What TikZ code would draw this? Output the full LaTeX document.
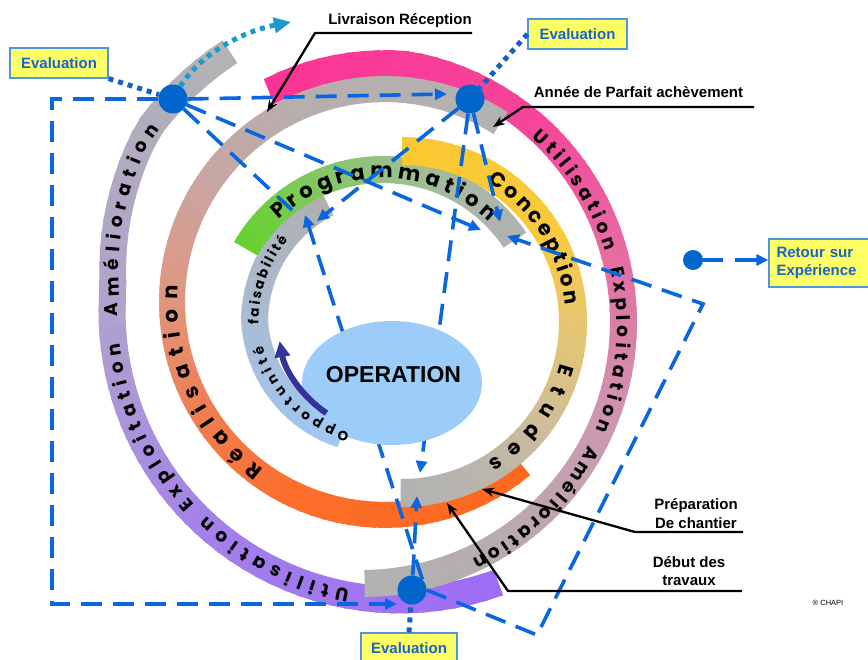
\documentclass[tikz,border=0pt]{standalone}
\usepackage{fontspec}
\setmainfont{Liberation Sans}
\newfontfamily\ringfont{Poppins}
\usetikzlibrary{arrows.meta,decorations.text}
% ring colours
\definecolor{fF1}{RGB}{158,108,246}\definecolor{fF2}{RGB}{163,128,234}\definecolor{fF3}{RGB}{176,162,206}\definecolor{fF4}{RGB}{179,179,179}
\definecolor{fE1}{RGB}{250,52,150}\definecolor{fE2}{RGB}{246,68,154}\definecolor{fE3}{RGB}{230,108,162}\definecolor{fE4}{RGB}{203,154,176}\definecolor{fE5}{RGB}{183,172,176}\definecolor{fE6}{RGB}{178,178,178}
\definecolor{fD1}{RGB}{255,104,30}\definecolor{fD2}{RGB}{252,110,42}\definecolor{fD3}{RGB}{240,126,82}\definecolor{fD4}{RGB}{222,152,132}\definecolor{fD5}{RGB}{200,166,162}\definecolor{fD6}{RGB}{183,174,174}\definecolor{fD7}{RGB}{178,178,178}
\definecolor{fC1}{RGB}{250,200,48}\definecolor{fC2}{RGB}{248,202,60}\definecolor{fC3}{RGB}{232,198,112}\definecolor{fC4}{RGB}{206,190,152}\definecolor{fC5}{RGB}{186,182,172}\definecolor{fC6}{RGB}{178,178,178}
\definecolor{fB1}{RGB}{102,210,45}\definecolor{fB2}{RGB}{128,200,96}\definecolor{fB3}{RGB}{158,190,146}\definecolor{fB4}{RGB}{170,182,166}\definecolor{fB5}{RGB}{176,178,176}
\definecolor{fA1}{RGB}{160,200,244}\definecolor{fA2}{RGB}{168,188,214}\definecolor{fA3}{RGB}{176,176,176}
\definecolor{opblue}{RGB}{156,204,250}
\definecolor{dotblue}{RGB}{0,102,204}
\definecolor{dashblue}{RGB}{10,102,222}
\definecolor{dottedblue}{RGB}{20,96,200}
\definecolor{cyanblue}{RGB}{25,155,210}
\definecolor{navy}{RGB}{51,51,153}
\definecolor{boxfill}{RGB}{255,255,102}
\definecolor{boxline}{RGB}{80,150,220}
\definecolor{evaltext}{RGB}{25,100,200}
% inner radius of each band, as a function of the angle
\pgfmathdeclarefunction{rinA}{1}{\pgfmathparse{108+12*min(1,max(0,(-112-(#1))/68))}}
\pgfmathdeclarefunction{rinB}{1}{\pgfmathparse{145}}
\pgfmathdeclarefunction{rinC}{1}{\pgfmathparse{157}}
\pgfmathdeclarefunction{rinD}{1}{\pgfmathparse{200}}
\pgfmathdeclarefunction{rinE}{1}{\pgfmathparse{248-13*max(0,((#1)-80)/32)}}
\pgfmathdeclarefunction{rinF}{1}{\pgfmathparse{274.5+min(23,max(0,-185-(#1))*0.742)}}
% baseline radius of the texts
\pgfmathdeclarefunction{tA}{1}{\pgfmathparse{rinA(#1)+9.5}}
\pgfmathdeclarefunction{tB}{1}{\pgfmathparse{150}}
\pgfmathdeclarefunction{tC}{1}{\pgfmathparse{164}}
\pgfmathdeclarefunction{tD}{1}{\pgfmathparse{207}}
\pgfmathdeclarefunction{tE}{1}{\pgfmathparse{250.5+11*(47-(#1))/112}}
\pgfmathdeclarefunction{tF}{1}{\pgfmathparse{282+min(20,max(0,-185-(#1))*0.7)}}
% gradient band piece: centre, a1, a2, radius fn, width, colour a1, colour a2
\newcommand\BandSeg[7]{%
  \foreach \ii in {1,...,20}{%
    \pgfmathsetmacro\ta{#2+(#3-#2)*(\ii-1)/20}%
    \pgfmathsetmacro\tb{#2+(#3-#2)*(\ii+0.3)/20}%
    \pgfmathsetmacro\ra{#4(\ta)}%
    \pgfmathsetmacro\rb{#4(\tb)}%
    \pgfmathsetmacro\rc{\ra+#5}%
    \pgfmathsetmacro\rd{\rb+#5}%
    \pgfmathsetmacro\pc{100*(\ii-0.5)/20}%
    \fill[#7!\pc!#6, shift={(#1)}] (\ta:\ra) -- (\tb:\rb) -- (\tb:\rd) -- (\ta:\rc) -- cycle;
  }}
% word along a band
\newcommand\RingWord[6]{%
  \path[shift={(#1)}, decorate, decoration={text along path, text align={fit to path},
     text={|\ringfont\bfseries\fontsize{#5}{#5}\selectfont|#6}}]
     plot[domain=#2:#3, samples=40, variable=\vv] ({#4(\vv)*cos(\vv)}, {#4(\vv)*sin(\vv)});
}
\begin{document}
\begin{tikzpicture}[x=1pt,y=1pt,
  bdot/.style={circle, fill=dotblue, inner sep=0pt, minimum size=29pt},
  sdot/.style={circle, fill=dotblue, inner sep=0pt, minimum size=20pt},
  dashline/.style={draw=dashblue, line width=3.6pt, dash pattern=on 21pt off 11pt},
  dtip/.style={-{Triangle[length=12pt,width=11pt]}},
  dotline/.style={draw=dottedblue, line width=5pt, dash pattern=on 5pt off 5pt},
  cyanline/.style={draw=cyanblue, line width=5pt, dash pattern=on 5pt off 5pt, -{Triangle[length=17pt,width=15pt]}},
  evalbox/.style={draw=boxline, line width=1.2pt, fill=boxfill, text=evaltext, inner sep=0pt, minimum height=30pt, font=\bfseries\fontsize{15}{18}\selectfont},
  lbl/.style={inner sep=0pt, font=\bfseries\fontsize{15}{18}\selectfont},
  calloutline/.style={draw=black, line width=2.3pt, line join=round, -{Stealth[length=12pt,width=9pt]}},
  navyarrow/.style={draw=navy, line width=6pt, -{Triangle[length=16pt,width=15pt]}}
]
\useasboundingbox (0,0) rectangle (868,-660);
\coordinate (cA) at (388,-322);
\coordinate (cB) at (383,-328);
\coordinate (cC) at (402,-322);
\coordinate (cD) at (385,-302);
\coordinate (cE) at (362,-322);
\coordinate (cF) at (400,-312);
% ---- bands
\BandSeg{cF}{-70}{-130}{rinF}{27}{fF1}{fF2}
\BandSeg{cF}{-130}{-180}{rinF}{27}{fF2}{fF3}
\BandSeg{cF}{-180}{-236}{rinF}{27}{fF3}{fF4}
\BandSeg{cE}{112}{50}{rinE}{27}{fE1}{fE2}
\BandSeg{cE}{50}{15}{rinE}{27}{fE2}{fE3}
\BandSeg{cE}{15}{-25}{rinE}{27}{fE3}{fE4}
\BandSeg{cE}{-25}{-60}{rinE}{27}{fE4}{fE5}
\BandSeg{cE}{-60}{-89}{rinE}{27}{fE5}{fE6}
\BandSeg{cD}{-50}{-115}{rinD}{26}{fD1}{fD2}
\BandSeg{cD}{-115}{-150}{rinD}{26}{fD2}{fD3}
\BandSeg{cD}{-150}{-185}{rinD}{26}{fD3}{fD4}
\BandSeg{cD}{-185}{-215}{rinD}{26}{fD4}{fD5}
\BandSeg{cD}{-215}{-245}{rinD}{26}{fD5}{fD6}
\BandSeg{cD}{-245}{-302}{rinD}{26}{fD6}{fD7}
\BandSeg{cA}{-112}{-180}{rinA}{27}{fA1}{fA2}
\BandSeg{cA}{-180}{-242}{rinA}{27}{fA2}{fA3}
\BandSeg{cB}{150}{115}{rinB}{27}{fB1}{fB2}
\BandSeg{cB}{115}{80}{rinB}{27}{fB2}{fB3}
\BandSeg{cB}{80}{55}{rinB}{27}{fB3}{fB4}
\BandSeg{cB}{55}{34}{rinB}{27}{fB4}{fB5}
\BandSeg{cC}{90}{30}{rinC}{28}{fC1}{fC2}
\BandSeg{cC}{30}{0}{rinC}{28}{fC2}{fC3}
\BandSeg{cC}{0}{-35}{rinC}{28}{fC3}{fC4}
\BandSeg{cC}{-35}{-60}{rinC}{28}{fC4}{fC5}
\BandSeg{cC}{-60}{-90}{rinC}{28}{fC5}{fC6}
% ---- band texts
\RingWord{cA}{-179}{-219.5}{tA}{13.5}{faisabilité}
\RingWord{cB}{134}{45}{tB}{21}{Programmation}
\RingWord{cC}{58.7}{5.8}{tC}{20.5}{Conception}
\RingWord{cC}{-14.7}{-58.5}{tC}{20.5}{Etudes}
\RingWord{cD}{234}{175.5}{tD}{21}{Réalisation}
\RingWord{cE}{47.3}{16.3}{tE}{18.5}{Utilisation}
\RingWord{cE}{12.2}{-24.9}{tE}{18.5}{Exploitation}
\RingWord{cE}{-28.5}{-65}{tE}{18.5}{Amélioration}
\RingWord{cF}{-100.3}{-133.5}{tF}{18.5}{Utilisation}
\RingWord{cF}{-136.9}{-173.7}{tF}{18.5}{Exploitation}
\RingWord{cF}{-179.1}{-217.3}{tF}{18.5}{Amélioration}
% ---- evaluation points
\node[bdot] (dot1) at (173,-99) {};
\node[bdot] (dot2) at (470,-99) {};
\node[bdot] (dot3) at (412,-590) {};
\node[sdot] (dot4) at (693,-260) {};
% ---- dashed feedback lines
\coordinate (rectTL) at (52,-99);
\coordinate (rectBL) at (52,-604);
\coordinate (rectEnd) at (397,-604);
\coordinate (d2in) at (447,-94);
\coordinate (aEndL) at (292,-210);
\coordinate (bEndA) at (481,-230);
\coordinate (aEndB) at (317,-221);
\coordinate (bEndB) at (500,-222);
\coordinate (cEndA) at (420,-473);
\coordinate (cEndB) at (417,-496);
\coordinate (aEndC) at (305,-215);
\coordinate (polyA) at (537,-635);
\coordinate (polyB) at (703,-304);
\coordinate (bEndC) at (507,-236);
\draw[dashline, dtip] (dot1.west) -- (rectTL) -- (rectBL) -- (rectEnd);
\draw[dashline, dtip] (dot1.east) -- (d2in);
\draw[dashline] (dot1) -- (aEndL);
\draw[dashline, dtip] (dot1) -- (bEndA);
\draw[dashline, dtip] (dot2) -- (aEndB);
\draw[dashline, dtip] (dot2) -- (bEndB);
\draw[dashline, dtip] (dot2) -- (cEndA);
\draw[dashline, dtip] (dot3) -- (cEndB);
\draw[dashline, dtip] (dot3.north east) -- (aEndC);
\draw[dashline, dtip] (dot3.east) -- (polyA) -- (polyB) -- (bEndC);
% ---- operation
\fill[opblue] (392,-383) ellipse [x radius=90, y radius=62];
\node[font=\bfseries\fontsize{23}{26}\selectfont, inner sep=0pt] (op) at (393.5,-375) {OPERATION};
\RingWord{cA}{-109}{-169.5}{tA}{13.5}{Opportunité}
% ---- evaluation boxes
\node[evalbox, minimum width=98pt] (ev1) at (59,-63) {Evaluation};
\node[evalbox, minimum width=99pt] (ev2) at (577.5,-34) {Evaluation};
\node[evalbox, minimum width=96pt] (ev3) at (409,-648) {Evaluation};
\node[evalbox, minimum width=101pt, minimum height=48pt, align=left, text width=86pt] (ev4) at (819.5,-263) {Retour sur\\Expérience};
\draw[dotline] (ev1.south east) -- (dot1);
\draw[dotline] (ev2.west) -- (dot2);
\draw[dotline] (ev3.north) -- (dot3);
\coordinate (cyTip) at (291,-22);
\draw[cyanline] (dot1.60) .. controls (200,-55) and (240,-32) .. (cyTip);
\draw[draw=dashblue, line width=3.6pt, dash pattern=on 20pt off 12pt on 40pt, dtip] (dot4) -- (dot4 -| ev4.west);
% ---- callouts
\node[lbl, anchor=base] (livT) at (400,-25) {Livraison Réception};
\coordinate (livR) at (472,-33); \coordinate (livL) at (315,-33); \coordinate (livTip) at (267,-112);
\draw[calloutline] (livR) -- (livL) -- (livTip);
\node[lbl, anchor=base] (annT) at (638.5,-98) {Année de Parfait achèvement};
\coordinate (annR) at (754,-107); \coordinate (annL) at (523,-107); \coordinate (annTip) at (493,-127);
\draw[calloutline] (annR) -- (annL) -- (annTip);
\node[lbl, anchor=base] (prepA) at (696,-509) {Préparation};
\node[lbl, anchor=base] (prepB) at (696,-528) {De chantier};
\coordinate (prepR) at (743,-532); \coordinate (prepL) at (635,-532); \coordinate (prepTip) at (482,-489);
\draw[calloutline] (prepR) -- (prepL) -- (prepTip);
\node[lbl, anchor=base] (debA) at (689,-567) {Début des};
\node[lbl, anchor=base] (debB) at (689,-585) {travaux};
\coordinate (debR) at (742,-591); \coordinate (debL) at (508,-591); \coordinate (debTip) at (447,-503);
\draw[calloutline] (debR) -- (debL) -- (debTip);
\node[inner sep=0pt, font=\fontsize{7.5}{9}\selectfont] (chapi) at (828,-603) {® CHAPI};
% ---- navy arrow on the inner band
\draw[navyarrow] (cA) ++(-124:110) arc[start angle=-124, end angle=-170, radius=110];
\end{tikzpicture}
\end{document}
